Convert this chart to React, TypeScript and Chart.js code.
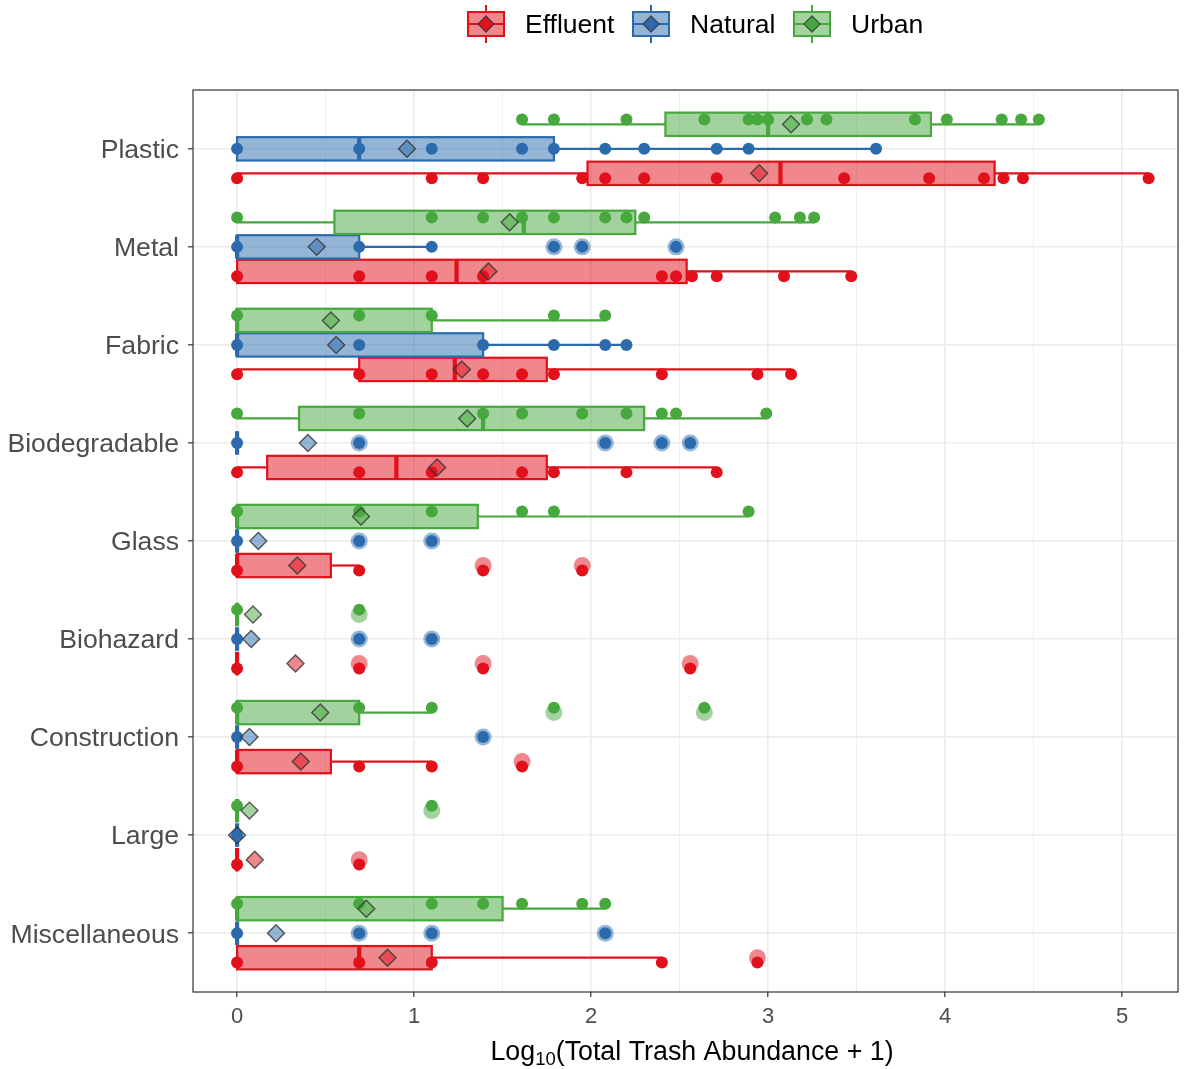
import React, { useEffect, useRef } from 'react';
import { Chart, registerables } from 'chart.js';

Chart.register(...registerables);

const categories = ['Plastic', 'Metal', 'Fabric', 'Biodegradable', 'Glass', 'Biohazard', 'Construction', 'Large', 'Miscellaneous'];
const groupNames = ['Effluent', 'Natural', 'Urban'];
const xTickValues = [0, 0.5, 1, 1.5, 2, 2.5, 3, 3.5, 4, 4.5, 5];

// [lower whisker, Q1, median, Q3, upper whisker] per category
const effluentBox = [
  [0, 1.98, 3.07, 4.28, 5.15],
  [0, 0, 1.24, 2.54, 3.47],
  [0, 0.69, 1.23, 1.75, 3.13],
  [0, 0.17, 0.9, 1.75, 2.71],
  [0, 0, 0, 0.53, 0.69],
  [0, 0, 0, 0, 0],
  [0, 0, 0, 0.53, 1.1],
  [0, 0, 0, 0, 0],
  [0, 0, 0.69, 1.1, 2.4],
];
const naturalBox = [
  [0, 0, 0.69, 1.79, 3.61],
  [0, 0, 0, 0.69, 1.1],
  [0, 0, 0, 1.39, 2.2],
  [0, 0, 0, 0, 0],
  [0, 0, 0, 0, 0],
  [0, 0, 0, 0, 0],
  [0, 0, 0, 0, 0],
  [0, 0, 0, 0, 0],
  [0, 0, 0, 0, 0],
];
const urbanBox = [
  [1.61, 2.42, 3.0, 3.92, 4.53],
  [0, 0.55, 1.62, 2.25, 3.26],
  [0, 0, 0, 1.1, 2.08],
  [0, 0.35, 1.39, 2.3, 2.99],
  [0, 0, 0, 1.36, 2.89],
  [0, 0, 0, 0, 0],
  [0, 0, 0, 0.69, 1.1],
  [0, 0, 0, 0, 0],
  [0, 0, 0, 1.5, 2.08],
];

const effluentMean = [2.95, 1.42, 1.27, 1.13, 0.34, 0.33, 0.36, 0.1, 0.85];
const naturalMean = [0.96, 0.45, 0.56, 0.4, 0.12, 0.08, 0.07, 0.0, 0.22];
const urbanMean = [3.13, 1.54, 0.53, 1.3, 0.7, 0.09, 0.47, 0.07, 0.73];

const effluentPoints = [
  [0, 1.1, 1.39, 1.95, 2.08, 2.3, 2.71, 3.43, 3.91, 4.22, 4.33, 4.44, 5.15],
  [0, 0.69, 1.1, 1.39, 2.4, 2.48, 2.57, 2.71, 3.09, 3.47],
  [0, 0.69, 1.1, 1.39, 1.61, 1.79, 2.4, 2.94, 3.13],
  [0, 0.69, 1.1, 1.61, 1.79, 2.2, 2.71],
  [0, 0.69, 1.39, 1.95],
  [0, 0.69, 1.39, 2.56],
  [0, 0.69, 1.1, 1.61],
  [0, 0.69],
  [0, 0.69, 1.1, 2.4, 2.94],
];
const naturalPoints = [
  [0, 0.69, 1.1, 1.61, 1.79, 2.08, 2.3, 2.71, 2.89, 3.61],
  [0, 0.69, 1.1, 1.79, 1.95, 2.48],
  [0, 0.69, 1.39, 1.79, 2.08, 2.2],
  [0, 0.69, 2.08, 2.4, 2.56],
  [0, 0.69, 1.1],
  [0, 0.69, 1.1],
  [0, 1.39],
  [0],
  [0, 0.69, 1.1, 2.08],
];
const urbanPoints = [
  [1.61, 1.79, 2.2, 2.64, 2.89, 2.94, 3.0, 3.22, 3.33, 3.83, 4.01, 4.32, 4.43, 4.53],
  [0, 1.1, 1.39, 1.61, 1.79, 2.08, 2.2, 2.3, 3.04, 3.18, 3.26],
  [0, 0.69, 1.1, 1.79, 2.08],
  [0, 0.69, 1.39, 1.61, 1.95, 2.2, 2.4, 2.48, 2.99],
  [0, 0.69, 1.1, 1.61, 1.79, 2.89],
  [0, 0.69],
  [0, 0.69, 1.1, 1.79, 2.64],
  [0, 1.1],
  [0, 0.69, 1.1, 1.39, 1.61, 1.95, 2.08],
];

const effluentOutliers = [[], [], [], [], [1.39, 1.95], [0.69, 1.39, 2.56], [1.61], [0.69], [2.94]];
const naturalOutliers = [[], [1.79, 1.95, 2.48], [], [0.69, 2.08, 2.4, 2.56], [0.69, 1.1], [0.69, 1.1], [1.39], [], [0.69, 1.1, 2.08]];
const urbanOutliers = [[], [], [], [], [], [0.69], [1.79, 2.64], [1.1], []];

const groupColors = ['#E1101B', '#2B6BAD', '#46A83D'];
const groupFills = ['rgba(225,16,27,0.5)', 'rgba(43,107,173,0.5)', 'rgba(70,168,61,0.5)'];
const boxOffsets = [0.25, 0, -0.25];
const pointOffsets = [0.3, 0, -0.3];
const BOX_HALF = 0.119;

const boxes = [effluentBox, naturalBox, urbanBox];
const means = [effluentMean, naturalMean, urbanMean];
const points = [effluentPoints, naturalPoints, urbanPoints];
const outliers = [effluentOutliers, naturalOutliers, urbanOutliers];

const FONT = '"Liberation Sans", Arial, Helvetica, sans-serif';

const boxPlugin = {
  id: 'boxes',
  beforeDatasetsDraw(chart: any) {
    const { ctx, scales } = chart;
    const x = scales.x;
    const y = scales.y;
    ctx.save();
    ctx.beginPath();
    ctx.rect(chart.chartArea.left, chart.chartArea.top, chart.chartArea.right - chart.chartArea.left, chart.chartArea.bottom - chart.chartArea.top);
    ctx.clip();
    boxes.forEach((grp, g) => {
      grp.forEach((b, i) => {
        const c = i + 1 + boxOffsets[g];
        const cy = y.getPixelForValue(c);
        const y1 = y.getPixelForValue(c - BOX_HALF);
        const y2 = y.getPixelForValue(c + BOX_HALF);
        const top = Math.min(y1, y2);
        const h = Math.abs(y2 - y1);
        const [lo, q1, med, q3, hi] = b.map((v) => x.getPixelForValue(v));
        ctx.strokeStyle = groupColors[g];
        ctx.lineWidth = 2.2;
        ctx.beginPath();
        ctx.moveTo(lo, cy);
        ctx.lineTo(q1, cy);
        ctx.moveTo(q3, cy);
        ctx.lineTo(hi, cy);
        ctx.stroke();
        ctx.fillStyle = groupFills[g];
        ctx.fillRect(q1, top, q3 - q1, h);
        ctx.lineWidth = 2.2;
        ctx.strokeRect(q1, top, q3 - q1, h);
        ctx.lineWidth = 4.2;
        ctx.beginPath();
        ctx.moveTo(med, top);
        ctx.lineTo(med, top + h);
        ctx.stroke();
      });
    });
    ctx.restore();
  },
};

const decorPlugin = {
  id: 'decor',
  afterDraw(chart: any) {
    const { ctx, chartArea } = chart;
    ctx.save();
    // panel border
    ctx.strokeStyle = '#333333';
    ctx.lineWidth = 1.2;
    ctx.strokeRect(chartArea.left, chartArea.top, chartArea.right - chartArea.left, chartArea.bottom - chartArea.top);

    // x axis title with subscript
    const big = '26.8px ' + FONT;
    const small = '18.5px ' + FONT;
    const p1 = 'Log';
    const p2 = '10';
    const p3 = '(Total Trash Abundance + 1)';
    ctx.font = big;
    const w1 = ctx.measureText(p1).width;
    const w3 = ctx.measureText(p3).width;
    ctx.font = small;
    const w2 = ctx.measureText(p2).width;
    const total = w1 + w2 + w3;
    let tx = 692 - total / 2;
    const base = 1060;
    ctx.fillStyle = '#000000';
    ctx.textBaseline = 'alphabetic';
    ctx.textAlign = 'left';
    ctx.font = big;
    ctx.fillText(p1, tx, base);
    tx += w1;
    ctx.font = small;
    ctx.fillText(p2, tx, base + 5);
    tx += w2;
    ctx.font = big;
    ctx.fillText(p3, tx, base);

    // legend
    const keyX = [468, 633, 794];
    const textX = [525, 690, 851];
    const kw = 36;
    const kTop = 12;
    const kh = 24;
    groupNames.forEach((name, g) => {
      const lx = keyX[g];
      const cx = lx + kw / 2;
      const cy = kTop + kh / 2;
      ctx.strokeStyle = groupColors[g];
      ctx.lineWidth = 2;
      ctx.beginPath();
      ctx.moveTo(cx, kTop - 7);
      ctx.lineTo(cx, kTop);
      ctx.moveTo(cx, kTop + kh);
      ctx.lineTo(cx, kTop + kh + 7);
      ctx.stroke();
      ctx.fillStyle = groupFills[g];
      ctx.fillRect(lx, kTop, kw, kh);
      ctx.strokeRect(lx, kTop, kw, kh);
      ctx.beginPath();
      ctx.moveTo(lx, cy);
      ctx.lineTo(lx + kw, cy);
      ctx.stroke();
      const r = 8;
      ctx.beginPath();
      ctx.moveTo(cx, cy - r);
      ctx.lineTo(cx + r, cy);
      ctx.lineTo(cx, cy + r);
      ctx.lineTo(cx - r, cy);
      ctx.closePath();
      ctx.fillStyle = groupColors[g];
      ctx.fill();
      ctx.strokeStyle = 'rgba(51,51,51,0.8)';
      ctx.lineWidth = 1.3;
      ctx.stroke();
      ctx.fillStyle = '#000000';
      ctx.font = '26.5px ' + FONT;
      ctx.textBaseline = 'middle';
      ctx.fillText(name, textX[g], cy + 2);
    });
    ctx.restore();
  },
};

export default function App() {
  const canvasRef = useRef<HTMLCanvasElement | null>(null);

  useEffect(() => {
    if (!canvasRef.current) return;
    const datasets: any[] = [];
    means.forEach((arr, g) => {
      datasets.push({
        label: groupNames[g] + ' mean',
        data: arr.map((v, i) => ({ x: v, y: i + 1 + boxOffsets[g] })),
        pointStyle: 'rectRot',
        pointRadius: 8.5,
        backgroundColor: groupFills[g],
        borderColor: 'rgba(51,51,51,0.8)',
        borderWidth: 1.4,
        order: 0,
      });
    });
    points.forEach((cats, g) => {
      const data: any[] = [];
      cats.forEach((vals, i) => vals.forEach((v) => data.push({ x: v, y: i + 1 + pointOffsets[g] })));
      datasets.push({
        label: groupNames[g] + ' points',
        data,
        pointStyle: 'circle',
        pointRadius: 6,
        backgroundColor: groupColors[g],
        borderWidth: 0,
        order: 1,
      });
    });
    outliers.forEach((cats, g) => {
      const data: any[] = [];
      cats.forEach((vals, i) => vals.forEach((v) => data.push({ x: v, y: i + 1 + boxOffsets[g] })));
      datasets.push({
        label: groupNames[g] + ' outliers',
        data,
        pointStyle: 'circle',
        pointRadius: 8.5,
        backgroundColor: groupFills[g],
        borderWidth: 0,
        order: 2,
      });
    });

    const chart = new Chart(canvasRef.current, {
      type: 'scatter',
      data: { datasets },
      options: {
        animation: false,
        responsive: false,
        devicePixelRatio: 1,
        events: [],
        layout: { padding: { top: 90, right: 20, left: 0, bottom: 0 } },
        plugins: {
          legend: { display: false },
          tooltip: { enabled: false },
        },
        scales: {
          x: {
            type: 'linear',
            min: -0.249,
            max: 5.316,
            afterBuildTicks: (scale: any) => {
              scale.ticks = xTickValues.map((v) => ({ value: v }));
            },
            afterFit: (scale: any) => {
              scale.height = 77;
            },
            border: { display: false },
            grid: {
              color: '#EBEBEB',
              lineWidth: (ctx: any) => (ctx.tick && ctx.tick.value % 1 === 0 ? 1.6 : 0.8),
              tickColor: (ctx: any) => (ctx.tick && ctx.tick.value % 1 === 0 ? '#333333' : 'rgba(0,0,0,0)'),
              tickLength: 5,
              tickWidth: 1.2,
            },
            ticks: {
              autoSkip: false,
              maxRotation: 0,
              padding: 7,
              color: '#4D4D4D',
              font: { family: FONT, size: 22 },
              callback: (v: any) => (Number(v) % 1 === 0 ? String(v) : ''),
            },
          },
          y: {
            type: 'linear',
            min: 0.4,
            max: 9.6,
            reverse: true,
            afterBuildTicks: (scale: any) => {
              scale.ticks = categories.map((_, i) => ({ value: i + 1 }));
            },
            afterFit: (scale: any) => {
              scale.width = 193;
            },
            border: { display: false },
            grid: {
              color: '#EBEBEB',
              lineWidth: 1.6,
              tickColor: '#333333',
              tickLength: 5,
              tickWidth: 1.2,
            },
            ticks: {
              autoSkip: false,
              padding: 9,
              labelOffset: 2,
              color: '#4D4D4D',
              font: { family: FONT, size: 26.6 },
              callback: (v: any) => categories[Math.round(Number(v)) - 1] || '',
            },
          },
        },
      },
      plugins: [boxPlugin, decorPlugin],
    });
    return () => chart.destroy();
  }, []);

  return (
    <div style={{ position: 'fixed', left: 0, top: 0, width: 1198, height: 1069, background: '#ffffff' }}>
      <canvas ref={canvasRef} width={1198} height={1069} style={{ width: 1198, height: 1069, display: 'block' }} />
    </div>
  );
}
